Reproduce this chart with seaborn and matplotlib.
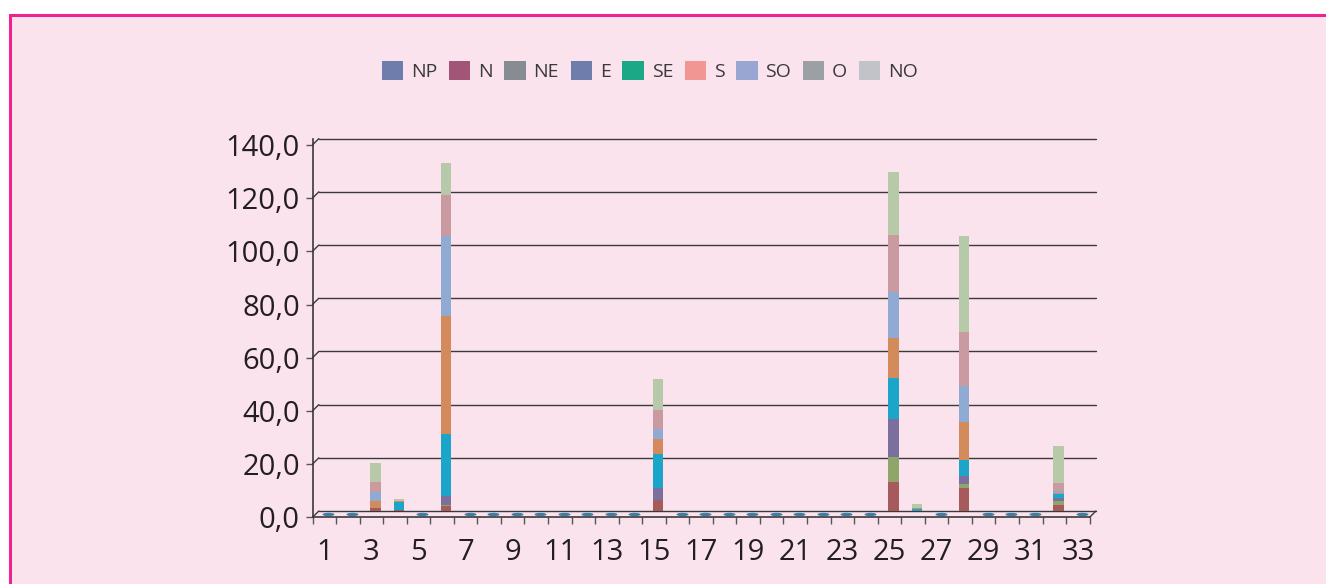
import numpy as np
import pandas as pd
import matplotlib
matplotlib.use("Agg")
import matplotlib.pyplot as plt
import seaborn as sns
from matplotlib.patches import Rectangle, Patch
from matplotlib.path import Path
from matplotlib.transforms import ScaledTranslation

# ---------------- data ----------------
positions = list(range(1, 34))
directions = ["NP", "N", "NE", "E", "SE", "S", "SO", "O", "NO"]

NP = [0.0] * 33
N  = [0, 0, 1.0, 0.5, 0, 1.8, 0, 0, 0, 0, 0, 0, 0, 0, 4.1, 0, 0, 0, 0, 0, 0, 0, 0, 0, 11.0, 0, 0, 8.6, 0, 0, 0, 2.4, 0]
NE = [0, 0, 0, 0, 0, 0.5, 0, 0, 0, 0, 0, 0, 0, 0, 0, 0, 0, 0, 0, 0, 0, 0, 0, 0, 9.3, 0, 0, 1.5, 0, 0, 0, 1.3, 0]
E  = [0, 0, 0, 0, 0, 3.5, 0, 0, 0, 0, 0, 0, 0, 0, 4.5, 0, 0, 0, 0, 0, 0, 0, 0, 0, 14.2, 0, 0, 2.9, 0, 0, 0, 1.1, 0]
SE = [0, 0, 0, 3.0, 0, 23.1, 0, 0, 0, 0, 0, 0, 0, 0, 12.7, 0, 0, 0, 0, 0, 0, 0, 0, 0, 15.5, 0.8, 0, 6.2, 0, 0, 0, 1.6, 0]
S  = [0, 0, 2.6, 0.3, 0, 44.3, 0, 0, 0, 0, 0, 0, 0, 0, 5.9, 0, 0, 0, 0, 0, 0, 0, 0, 0, 15.0, 0.4, 0, 14.2, 0, 0, 0, 0.3, 0]
SO = [0, 0, 3.7, 0, 0, 30.0, 0, 0, 0, 0, 0, 0, 0, 0, 3.5, 0, 0, 0, 0, 0, 0, 0, 0, 0, 17.5, 0, 0, 13.7, 0, 0, 0, 0.9, 0]
O  = [0, 0, 3.7, 0, 0, 15.6, 0, 0, 0, 0, 0, 0, 0, 0, 7.2, 0, 0, 0, 0, 0, 0, 0, 0, 0, 21.2, 0, 0, 20.2, 0, 0, 0, 2.9, 0]
NO = [0, 0, 7.1, 0.7, 0, 12.0, 0, 0, 0, 0, 0, 0, 0, 0, 11.8, 0, 0, 0, 0, 0, 0, 0, 0, 0, 23.8, 1.6, 0, 35.9, 0, 0, 0, 14.0, 0]

series = {"NP": NP, "N": N, "NE": NE, "E": E, "SE": SE, "S": S, "SO": SO, "O": O, "NO": NO}

yticks = [0, 20, 40, 60, 80, 100, 120, 140]
xtick_labels = [str(v) for v in range(1, 34, 2)]

# colours
bar_colors = {"NP": "#6e7fac", "N": "#a65a5c", "NE": "#8fa66b", "E": "#7b6f9d",
              "SE": "#1ba5c9", "S": "#d48b5b", "SO": "#8fabd3", "O": "#c99a9f",
              "NO": "#b6c9a8"}
legend_colors = {"NP": "#6e7dab", "N": "#a35577", "NE": "#868c91", "E": "#6e7dab",
                 "SE": "#1ba887", "S": "#f29693", "SO": "#98a6d1", "O": "#9aa0a4",
                 "NO": "#c1c3c8"}

df = pd.DataFrame(series, index=positions)
cum = df.cumsum(axis=1)  # stacked tops, NP at the bottom
totals = df.sum(axis=1)

# ---------------- figure ----------------
sns.set_theme(style="white")
plt.rcParams["font.family"] = ["Open Sans", "DejaVu Sans"]

fig = plt.figure(figsize=(13.26, 5.84), dpi=100)
fig.patch.set_facecolor("white")
top_frac = 1 - 14.5 / 584
fig.patches.append(Rectangle((9.5 / 1326, -0.05), 1.1, top_frac + 0.05,
                             transform=fig.transFigure, facecolor="#fbe3ee",
                             edgecolor="#ec2390", linewidth=2.2, zorder=-5))

ax = fig.add_axes([312.5 / 1326, (584 - 517.3) / 584, 777.1 / 1326, 378.7 / 584])
ax.set_facecolor("none")
ax.set_zorder(2)

off = 2.37  # depth offset of the front plane (data units)
dx = 0.27   # depth offset horizontally (category units)

# gridlines on back plane with small slanted connectors
for v in yticks:
    ax.plot([0.5, 0.5 + dx], [v - off, v], color="#3a3a3a", lw=1.0, clip_on=False, zorder=1)
    ax.plot([0.5 + dx, 33.5 + dx], [v, v], color="#3a3a3a", lw=1.0, clip_on=False, zorder=1)
ax.plot([33.5, 33.5 + dx], [-off, 0], color="#3a3a3a", lw=1.0, clip_on=False, zorder=1)

# zero discs for empty categories
t = np.linspace(0, 2 * np.pi, 40)
ell = Path(np.column_stack([np.cos(t), 0.28 * np.sin(t)]))
shift = ScaledTranslation(4 / 100, -3 / 100, fig.dpi_scale_trans)
zero_pos = [p for p in positions if totals[p] == 0]
ax.scatter(zero_pos, [0] * len(zero_pos), marker=ell, s=75, color="#3b7ea6", linewidths=0,
           zorder=2, transform=ax.transData + shift, clip_on=False)

# stacked bars: draw cumulative totals from the top series down
n_before = len(ax.patches)
for d in directions[::-1]:
    sns.barplot(x=positions, y=cum[d].values, native_scale=True, width=0.45,
                color=bar_colors[d], saturation=1, errorbar=None, linewidth=0,
                ax=ax, zorder=3)
bshift = ScaledTranslation(4 / 100, 0, fig.dpi_scale_trans)
for p in ax.patches[n_before:]:
    p.set_transform(ax.transData + bshift)

ax.set_xlim(0.5, 33.5)
ax.set_ylim(-off, 140)
ax.set_xlabel("")
ax.set_ylabel("")

# y ticks on front plane
ax.set_yticks([v - off for v in yticks])
ax.set_yticklabels([f"{v:.1f}".replace(".", ",") for v in yticks])
ax.tick_params(axis="y", length=5, width=1, color="#555555", pad=4,
               labelsize=21, labelcolor="#231f20", left=True)

ax.set_xticks(list(range(1, 34, 2)))
ax.set_xticklabels(xtick_labels)
ax.set_xticks([i + 0.5 for i in range(0, 34)], minor=True)
ax.tick_params(axis="x", which="major", length=0, pad=15, labelsize=21, labelcolor="#231f20")
ax.tick_params(axis="x", which="minor", length=5, width=1, color="#555555", bottom=True, direction="out")

for s in ["top", "right"]:
    ax.spines[s].set_visible(False)
for s in ["left", "bottom"]:
    ax.spines[s].set_color("#3a3a3a")
    ax.spines[s].set_linewidth(1.2)

handles = [Patch(facecolor=legend_colors[d], edgecolor="none", label=d) for d in directions]
leg = fig.legend(handles=handles, loc="center", bbox_to_anchor=(650 / 1326, 1 - 71 / 584),
                 ncol=9, frameon=False, fontsize=14, handlelength=1.1, handleheight=1.1,
                 handletextpad=0.4, columnspacing=0.6, borderpad=0)
for txt in leg.get_texts():
    txt.set_color("#3a3a3a")

fig.savefig("out.png", dpi=100, facecolor=fig.get_facecolor())
